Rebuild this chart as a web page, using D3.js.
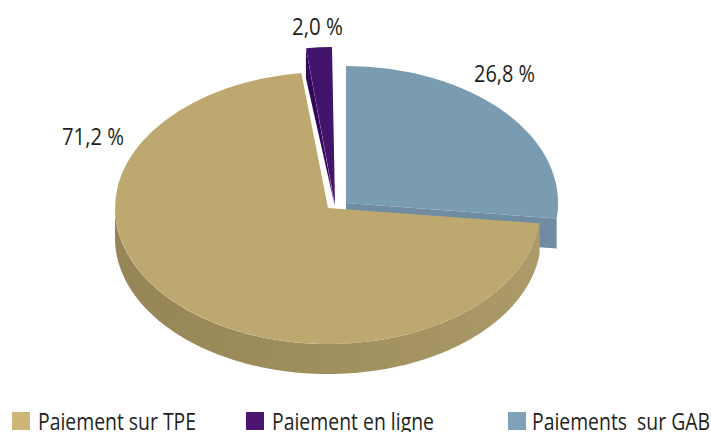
<!DOCTYPE html>
<html>
<head>
<meta charset="utf-8">
<script src="https://cdn.jsdelivr.net/npm/d3@7"></script>
<style>
  html, body { margin: 0; padding: 0; background: #fff; overflow: hidden; }
  text { font-family: "Open Sans", sans-serif; fill: #231f20; white-space: pre; }
</style>
</head>
<body>
<div class="pie-plot"></div>
<script>
// Chart data
const categories = ['Paiement sur TPE', 'Paiement en ligne', 'Paiements  sur GAB']
const shares = [71.2, 2.0, 26.8]

// Colours, same order as the categories
const topColors = ['#bda96f', '#43146b', '#7a9cb1']
const cutColors = ['#9a8a58', '#35055a', '#6f8ca2']
const legendColors = ['#cdb678', '#4c1670', '#7fa2b8']

const width = 711
const height = 432
const depth = 30

// Each slice was pulled out by hand in the original so each has its own ellipse
// skew leans the ellipse a little (the purple one is not upright)
const ellipses = [
    {cx: 328, cy: 208, rx: 213, ry: 136, skew: 0},
    {cx: 335, cy: 205, rx: 208, ry: 158, skew: 3},
    {cx: 346, cy: 203, rx: 212, ry: 137, skew: 0}
]
// Label and legend placement
const labelPos = [
    {x: 62, y: 145, w: 62},
    {x: 292, y: 35, w: 51},
    {x: 474, y: 82, w: 61}
]
const legendPos = [
    {box: 12, text: 38, w: 158},
    {box: 246, text: 272, w: 162},
    {box: 508, text: 532, w: 178}
]

const svg = d3.select('.pie-plot')
    .append('svg')
    .attr('width', width)
    .attr('height', height)

// Shade the rim of the tan slice from left to right
const rimGradient = svg.append('defs')
    .append('linearGradient')
    .attr('id', 'rim')
    .attr('gradientUnits', 'userSpaceOnUse')
    .attr('x1', 115).attr('x2', 540).attr('y1', 0).attr('y2', 0)
rimGradient.append('stop').attr('offset', 0).attr('stop-color', '#968657')
rimGradient.append('stop').attr('offset', 0.5).attr('stop-color', '#9f8f5d')
rimGradient.append('stop').attr('offset', 1).attr('stop-color', '#ac9b68')

// Start where the blue slice ends so that it goes tan, purple, blue clockwise
const startAngle = 2 * Math.PI * shares[2] / 100
const slices = d3.pie()
    .sort(null)
    .startAngle(startAngle)
    .endAngle(startAngle + 2 * Math.PI)(shares)

// Point on the rim of an ellipse
const rimPoint = (e, a, drop = 0) => [
    e.cx + e.rx * Math.sin(a) - e.skew * Math.cos(a),
    e.cy - e.ry * Math.cos(a) + drop
]

// Top face, a unit d3.arc stretched onto the ellipse
const unitArc = d3.arc().innerRadius(0).outerRadius(1)
const faceMatrix = e => `matrix(${e.rx},0,${e.skew},${e.ry},${e.cx},${e.cy})`

const line = d3.line()

// Cut face from centre to rim at a given angle
const cutFace = (e, a) => line([
    [e.cx, e.cy],
    rimPoint(e, a),
    rimPoint(e, a, depth),
    [e.cx, e.cy + depth]
]) + 'Z'

// Outer wall between two angles
const wall = (e, a0, a1) => {
    const angles = d3.range(a0, a1, 0.01).concat([a1])
    const upper = angles.map(a => rimPoint(e, a))
    const lower = angles.map(a => rimPoint(e, a, depth)).reverse()
    return line(upper.concat(lower)) + 'Z'
}

// Blue first, then purple, the tan slice sits in front of both
const blue = slices[2]
svg.append('path')
    .attr('d', cutFace(ellipses[2], blue.endAngle))
    .attr('fill', cutColors[2])
svg.append('path')
    .attr('d', unitArc(blue))
    .attr('transform', faceMatrix(ellipses[2]))
    .attr('fill', topColors[2])

const purple = slices[1]
svg.append('path')
    .attr('d', line([
        [ellipses[1].cx, ellipses[1].cy + 2],
        rimPoint(ellipses[1], purple.startAngle),
        rimPoint(ellipses[1], purple.startAngle, depth)
    ]) + 'Z')
    .attr('fill', cutColors[1])
svg.append('path')
    .attr('d', unitArc(purple))
    .attr('transform', faceMatrix(ellipses[1]))
    .attr('fill', topColors[1])

const tan = slices[0]
svg.append('path')
    .attr('d', wall(ellipses[0], tan.startAngle, 1.5 * Math.PI))
    .attr('fill', 'url(#rim)')
svg.append('path')
    .attr('d', unitArc(tan))
    .attr('transform', faceMatrix(ellipses[0]))
    .attr('fill', topColors[0])

// Value labels
svg.selectAll('.value')
    .data(shares)
    .enter()
    .append('text')
    .attr('class', 'value')
    .attr('x', (d, i) => labelPos[i].x)
    .attr('y', (d, i) => labelPos[i].y)
    .attr('font-size', 24)
    .attr('textLength', (d, i) => labelPos[i].w)
    .attr('lengthAdjust', 'spacingAndGlyphs')
    .text(d => d.toFixed(1).replace('.', ',') + ' %')

// Legend
svg.selectAll('.swatch')
    .data(categories)
    .enter()
    .append('rect')
    .attr('class', 'swatch')
    .attr('x', (d, i) => legendPos[i].box)
    .attr('y', 412)
    .attr('width', 18)
    .attr('height', 18)
    .attr('fill', (d, i) => legendColors[i])

svg.selectAll('.legend')
    .data(categories)
    .enter()
    .append('text')
    .attr('class', 'legend')
    .attr('x', (d, i) => legendPos[i].text)
    .attr('y', 430)
    .attr('font-size', 23)
    .attr('textLength', (d, i) => legendPos[i].w)
    .attr('lengthAdjust', 'spacingAndGlyphs')
    .text(d => d)
</script>
</body>
</html>
